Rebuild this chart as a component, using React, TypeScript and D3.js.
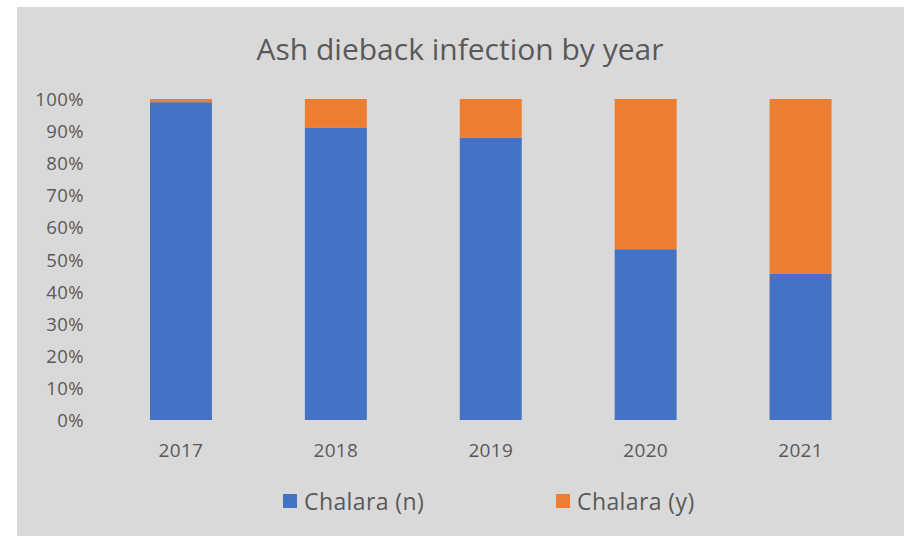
import React from "react";
import * as d3 from "d3";

const years = ["2017", "2018", "2019", "2020", "2021"];
const chalaraN = [0.99, 0.91, 0.88, 0.532, 0.455];
const chalaraY = [0.01, 0.09, 0.12, 0.468, 0.545];
const seriesNames = ["Chalara (n)", "Chalara (y)"];
const seriesColors = ["#4472c4", "#ed7d31"];
const yTicks = [0, 0.1, 0.2, 0.3, 0.4, 0.5, 0.6, 0.7, 0.8, 0.9, 1.0];

export default function App() {
  const W = 905, H = 536;
  const x = d3.scaleBand<string>().domain(years).range([103.5, 878]).paddingInner(0.6).paddingOuter(0.3);
  const y = d3.scaleLinear().domain([0, 1]).range([420, 99]);
  const font = "'Open Sans', 'Noto Sans', sans-serif";
  const textColor = "#595959";
  const rows = years.map((yr, i) => ({ yr, n: chalaraN[i], y: chalaraY[i] }));
  const stack = d3.stack<any>().keys(["n", "y"])(rows);
  return (
    <svg width={W} height={H} style={{ position: "absolute", left: 0, top: 0 }} fontFamily={font}>
      <rect x={0} y={0} width={W} height={H} fill="#ffffff" />
      <rect x={17} y={7} width={887} height={529} fill="#d9d9d9" />
      <text x={460} y={60} textAnchor="middle" fontSize={30} fill={textColor}>
        Ash dieback infection by year
      </text>
      {yTicks.map((t) => (
        <text key={t} x={84} y={y(t) + 7} textAnchor="end" fontSize={18.5} fill={textColor} letterSpacing={0.4}>
          {d3.format(".0%")(t)}
        </text>
      ))}
      {stack.map((s, si) =>
        s.map((d, i) => (
          <rect
            key={si + "-" + i}
            x={x(years[i])}
            width={x.bandwidth()}
            y={y(d[1])}
            height={y(d[0]) - y(d[1])}
            fill={seriesColors[si]}
          />
        ))
      )}
      {years.map((yr) => (
        <text key={yr} x={(x(yr) as number) + x.bandwidth() / 2} y={457} textAnchor="middle" fontSize={19} fill={textColor} letterSpacing={0.3}>
          {yr}
        </text>
      ))}
      {seriesNames.map((name, i) => {
        const lx = i === 0 ? 283 : 556;
        return (
          <g key={name}>
            <rect x={lx} y={494} width={14} height={14} fill={seriesColors[i]} />
            <text x={lx + 21} y={510} fontSize={23} fill={textColor} letterSpacing={0.4}>{name}</text>
          </g>
        );
      })}
    </svg>
  );
}
